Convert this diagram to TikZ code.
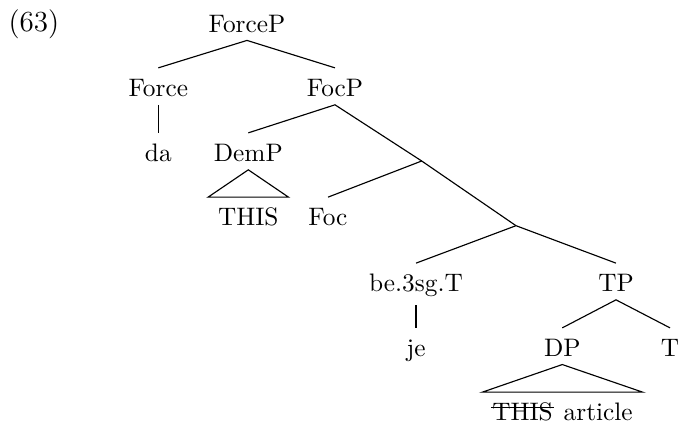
\documentclass[tikz,border=0pt]{standalone}
\usepackage{fontspec}
\newsavebox\strikebox
\newcommand\strikeword[1]{\sbox\strikebox{#1}\rlap{\kern-0.6pt\rule[5.2pt]{\dimexpr\wd\strikebox+1.2pt\relax}{0.45pt}}\usebox\strikebox}
\begin{document}
\begin{tikzpicture}[x=0.3953pt,y=-0.3953pt,
  lab/.style={anchor=base,inner xsep=1pt,inner ysep=2.9pt,text height=8.3pt},
  leaf/.style={lab,inner xsep=3.75pt},
  edge/.style={line width=0.45pt}]
\useasboundingbox (0,0) rectangle (680,427);
\node[anchor=base west,inner sep=0pt,font=\fontsize{11.5}{14}\selectfont] (ex) at (8,32) {(63)};
\node[lab] (forcep) at (247,32.3) {ForceP};
\node[lab] (force) at (158.3,96.7) {Force};
\node[lab] (focp) at (335,96.7) {FocP};
\node[lab] (da) at (158.3,161.7) {da};
\node[lab] (demp) at (248.3,161.7) {DemP};
\node[leaf] (this) at (248.3,226) {THIS};
\node[lab] (foc) at (328,226) {Foc};
\coordinate (i1) at (421.7,161);
\coordinate (i2) at (516,225.7);
\node[lab] (be) at (416,292) {be.3sg.T};
\node[lab] (tp) at (616,292) {TP};
\node[lab] (je) at (416,356.7) {je};
\node[lab] (dp) at (562.3,356.7) {DP};
\node[lab] (t) at (670,356.7) {T};
\node[leaf] (art) at (562.5,421) {\strikeword{THIS}\hspace{1pt} article};
\draw[edge] (force.north) -- (forcep.south) -- (focp.north);
\draw[edge] (force.south) -- (da.north);
\draw[edge] (demp.north) -- (focp.south) -- (i1);
\draw[edge] (demp.south) -- (this.north west) -- (this.north east) -- cycle;
\draw[edge] (foc.north) -- (i1) -- (i2);
\draw[edge] (be.north) -- (i2) -- (tp.north);
\draw[edge] (be.south) -- (je.north);
\draw[edge] (dp.north) -- (tp.south) -- (t.north);
\draw[edge] (dp.south) -- (art.north west) -- (art.north east) -- cycle;
\end{tikzpicture}
\end{document}
